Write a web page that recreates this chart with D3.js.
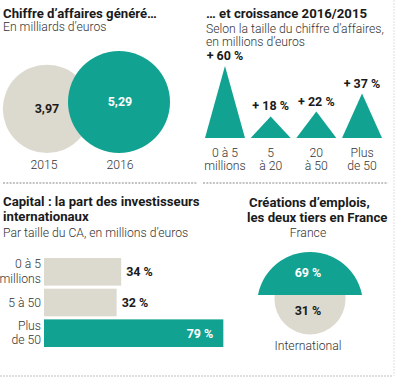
<!DOCTYPE html>
<html>
<head>
<meta charset="utf-8">
<script src="https://cdn.jsdelivr.net/npm/d3@7"></script>
<style>
  body { margin: 0; background: #fff; }
  svg { display: block; font-family: Roboto, "Noto Sans", sans-serif; }
  .title { font-weight: 700; font-size: 13.2px; fill: #1a1a1a; }
  .sub { font-weight: 300; font-size: 12.2px; fill: #333; }
  .lab { font-weight: 300; font-size: 12.2px; fill: #333; }
  .val { font-weight: 700; font-size: 12.5px; }
</style>
</head>
<body>
<svg width="396" height="380"></svg>
<script>
let teal = '#11a291'
let beige = '#dcd9cf'

// chiffre d'affaires, milliards d'euros
let years = ['2015', '2016']
let ca = [3.97, 5.29]
let caText = ['3,97', '5,29']

// croissance 2016/2015 par taille
let growthCats = [['0 à 5', 'millions'], ['5', 'à 20'], ['20', 'à 50'], ['Plus', 'de 50']]
let growth = [60, 18, 22, 37]

// part des investisseurs internationaux
let capCats = [['0 à 5', 'millions'], ['5 à 50'], ['Plus', 'de 50']]
let capital = [34, 32, 79]

// créations d'emplois
let jobLabels = ['France', 'International']
let jobs = [69, 31]

let svg = d3.select('svg')

// separators
let sep = svg.append('g')
sep.append('line').attr('x1', 3).attr('x2', 197).attr('y1', 183).attr('y2', 183)
   .attr('stroke', '#c4c4c4').attr('stroke-width', 2).attr('stroke-dasharray', '2,1.3')
sep.append('line').attr('x1', 203).attr('x2', 388).attr('y1', 183).attr('y2', 183)
   .attr('stroke', '#c4c4c4').attr('stroke-width', 2).attr('stroke-dasharray', '2,1.3')
sep.append('line').attr('x1', 0).attr('x2', 392).attr('y1', 376).attr('y2', 376)
   .attr('stroke', '#bdbdbd').attr('stroke-width', 1).attr('stroke-dasharray', '2,1')
sep.append('line').attr('x1', 394).attr('x2', 394).attr('y1', 0).attr('y2', 376)
   .attr('stroke', '#dedede').attr('stroke-width', 1).attr('stroke-dasharray', '2,1')

let text = (g, x, y, s, cls, anchor) => {
    return g.append('text').attr('x', x).attr('y', y).attr('class', cls)
            .attr('text-anchor', anchor || 'start').text(s)
}

// ---- panel 1 : circles
let p1 = svg.append('g')
text(p1, 3, 18, 'Chiffre d’affaires généré…', 'title')
text(p1, 3, 31, 'En milliards d’euros', 'sub')

let rScale = d3.scaleSqrt().domain([0, 5.29]).range([0, 51])
let cx = d3.scalePoint().domain(years).range([47, 119])
let circBase = 153

p1.selectAll('circle').data(ca).enter().append('circle')
  .attr('cx', (d, i) => cx(years[i]))
  .attr('cy', d => circBase - rScale(d))
  .attr('r', d => rScale(d))
  .attr('fill', (d, i) => i == 1 ? teal : beige)
p1.selectAll('.cv').data(ca).enter().append('text')
  .attr('class', 'val')
  .attr('x', (d, i) => cx(years[i]) + (i == 0 ? 0 : 1))
  .attr('y', d => circBase - rScale(d) + 4)
  .attr('text-anchor', 'middle')
  .attr('fill', (d, i) => i == 1 ? '#fff' : '#1a1a1a')
  .text((d, i) => caText[i])
years.forEach((y, i) => text(p1, cx(y) - (i == 0 ? 3 : -1), 169, y, 'lab', 'middle'))

// ---- panel 2 : triangles
let p2 = svg.append('g')
text(p2, 206, 18, '… et croissance 2016/2015', 'title')
text(p2, 206, 33, 'Selon la taille du chiffre d’affaires,', 'sub')
text(p2, 206, 46, 'en millions d’euros', 'sub')

let tx = d3.scaleBand().domain(d3.range(growth.length)).range([205, 382]).paddingInner(0.125)
let ty = d3.scaleLinear().domain([0, 60]).range([138, 66])

p2.selectAll('path').data(growth).enter().append('path')
  .attr('fill', teal)
  .attr('d', (d, i) => {
      let x0 = tx(i), w = tx.bandwidth()
      return 'M' + x0 + ',' + ty(0) + 'L' + (x0 + w / 2) + ',' + ty(d) + 'L' + (x0 + w) + ',' + ty(0) + 'Z'
  })
p2.selectAll('.gv').data(growth).enter().append('text')
  .attr('class', 'val')
  .attr('x', (d, i) => tx(i) + tx.bandwidth() / 2)
  .attr('y', d => ty(d) - 6)
  .attr('text-anchor', 'middle')
  .attr('fill', '#1a1a1a')
  .text(d => '+ ' + d + ' %')
growthCats.forEach((c, i) => {
    c.forEach((s, j) => text(p2, tx(i) + tx.bandwidth() / 2, 157 + j * 13, s, 'lab', 'middle'))
})

// ---- panel 3 : bars
let p3 = svg.append('g')
text(p3, 3, 206, 'Capital : la part des investisseurs', 'title')
text(p3, 3, 221, 'internationaux', 'title')
text(p3, 3, 237, 'Par taille du CA, en millions d’euros', 'sub')

let bx = d3.scaleLinear().domain([0, 100]).range([44, 271])
let by = d3.scaleBand().domain(d3.range(capital.length)).range([258, 347]).paddingInner(0.1)

p3.selectAll('rect').data(capital).enter().append('rect')
  .attr('x', bx(0))
  .attr('y', (d, i) => by(i))
  .attr('width', d => bx(d) - bx(0))
  .attr('height', by.bandwidth())
  .attr('fill', (d, i) => i == 2 ? teal : beige)
p3.selectAll('.bv').data(capital).enter().append('text')
  .attr('class', 'val')
  .attr('x', (d, i) => i == 2 ? bx(d) - 10 : bx(d) + 5)
  .attr('y', (d, i) => by(i) + by.bandwidth() / 2 + 4.5)
  .attr('text-anchor', (d, i) => i == 2 ? 'end' : 'start')
  .attr('fill', (d, i) => i == 2 ? '#fff' : '#1a1a1a')
  .text(d => d + ' %')
capCats.forEach((c, i) => {
    let mid = by(i) + by.bandwidth() / 2
    let y0 = mid + 4 - (c.length - 1) * 7.5
    c.forEach((s, j) => text(p3, 41, y0 + j * 14.5, s, 'lab', 'end'))
})

// ---- panel 4 : half circles
let p4 = svg.append('g')
text(p4, 249, 207, 'Créations d’emplois,', 'title')
text(p4, 247, 222, 'les deux tiers en France', 'title')

let jr = d3.scaleSqrt().domain([0, 69]).range([0, 53])
let jcx = 310, jcy = 295

let defs = svg.append('defs')
defs.append('clipPath').attr('id', 'clipTop').append('rect')
    .attr('x', 240).attr('y', 200).attr('width', 150).attr('height', jcy - 200)
defs.append('clipPath').attr('id', 'clipBot').append('rect')
    .attr('x', 240).attr('y', jcy).attr('width', 150).attr('height', 80)

p4.append('circle').attr('cx', jcx).attr('cy', jcy + 4).attr('r', jr(jobs[1]))
  .attr('fill', beige).attr('clip-path', 'url(#clipBot)')
p4.append('circle').attr('cx', jcx).attr('cy', jcy + 10).attr('r', jr(jobs[0]))
  .attr('fill', teal).attr('clip-path', 'url(#clipTop)')

text(p4, jcx - 2, 237, jobLabels[0], 'lab', 'middle')
text(p4, jcx - 2, 350, jobLabels[1], 'lab', 'middle')
text(p4, jcx - 2, 277, jobs[0] + ' %', 'val', 'middle').attr('fill', '#fff')
text(p4, jcx - 2, 315, jobs[1] + ' %', 'val', 'middle').attr('fill', '#1a1a1a')
</script>
</body>
</html>
